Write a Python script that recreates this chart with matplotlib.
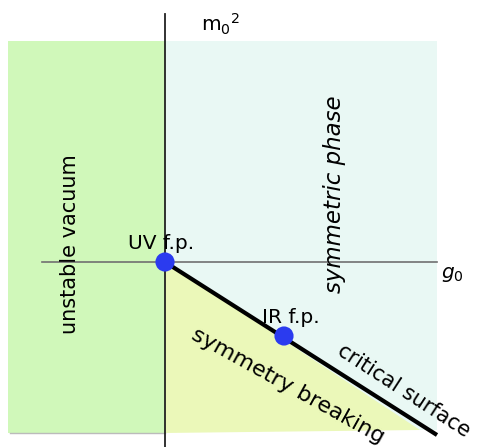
import matplotlib
matplotlib.use("Agg")
import matplotlib.pyplot as plt
from matplotlib.patches import Rectangle, Polygon

# Data (coupling-space units, origin at the UV fixed point)
region_names = ["unstable vacuum", "symmetric phase", "symmetry breaking"]
unstable_x = [-1.57, 0.0]
unstable_y = [-1.71, 2.21]
symmetric_x = [0.0, 2.72]
symmetric_y = [-1.68, 2.21]
breaking_tri_x = [0.0, 0.0, 2.55]
breaking_tri_y = [0.0, -1.71, -1.68]
critical_x = [0.0, 2.72]
critical_y = [0.0, -1.73]
fixed_points = ["UV f.p.", "IR f.p."]
fp_x = [0.0, 1.19]
fp_y = [0.0, -0.74]
g_axis_x = [-1.23, 2.72]
m_axis_y = [-1.86, 2.48]

fig = plt.figure(figsize=(4.90, 4.47), dpi=100)
ax = fig.add_axes([0, 0, 1, 1])
ax.set_xlim(-1.65, 3.25)
ax.set_ylim(-1.85, 2.62)
ax.axis("off")

green = "#d0f8ba"
cyan = "#e9f8f4"
yellow = "#ebf8b9"

ax.add_patch(Rectangle((unstable_x[0], unstable_y[0]), unstable_x[1] - unstable_x[0],
                       unstable_y[1] - unstable_y[0], facecolor=green, edgecolor="none", zorder=1))
ax.add_patch(Rectangle((symmetric_x[0], symmetric_y[0]), symmetric_x[1] - symmetric_x[0],
                       symmetric_y[1] - symmetric_y[0], facecolor=cyan, edgecolor="none", zorder=1))
ax.add_patch(Polygon(list(zip(breaking_tri_x, breaking_tri_y)), closed=True,
                     facecolor=yellow, edgecolor="none", zorder=2))
# faint shadow under the green block
ax.plot([unstable_x[0] + 0.02, unstable_x[1]], [unstable_y[0], unstable_y[0]],
        color="#bbbbbb", lw=1, zorder=2)

# axes
ax.plot(g_axis_x, [0, 0], color="#707070", lw=1.2, zorder=3)
ax.plot([0, 0], m_axis_y, color="#222222", lw=1.3, zorder=3)

# critical surface
ax.plot(critical_x, critical_y, color="black", lw=3, solid_capstyle="butt", zorder=4)

# fixed points
ax.scatter(fp_x, fp_y, s=190, color="#2b3bef", zorder=5, edgecolors="none")

fs = 14.5
ax.text(fp_x[0] - 0.04, fp_y[0] + 0.09, fixed_points[0], fontsize=fs, ha="center", va="bottom", zorder=6)
ax.text(fp_x[1] + 0.07, fp_y[1] + 0.09, fixed_points[1], fontsize=fs, ha="center", va="bottom", zorder=6)

ax.text(0.56, 2.38, r"m$_0$$^2$", fontsize=fs, ha="center", va="center")
ax.text(2.87, -0.13, r"g$_0$", fontsize=fs, ha="center", va="center", style="italic")

ax.text(-0.95, 0.18, region_names[0], fontsize=15, rotation=90, ha="center", va="center")
ax.text(1.7, 0.68, region_names[1], fontsize=16.5, rotation=90, ha="center", va="center", style="italic")
ax.text(1.23, -1.24, region_names[2], fontsize=16, rotation=-29, ha="center", va="center",
        rotation_mode="anchor")
ax.text(2.39, -1.29, "critical surface", fontsize=15, rotation=-33, ha="center", va="center",
        rotation_mode="anchor")

fig.savefig("out.png", dpi=100)
